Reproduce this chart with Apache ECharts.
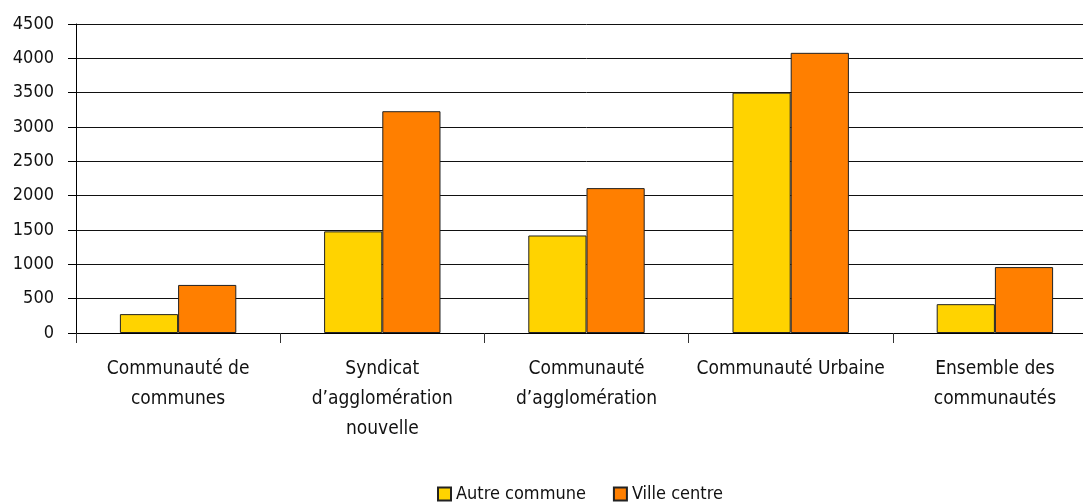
<!DOCTYPE html>
<html><head><meta charset="utf-8">
<script src="https://cdn.jsdelivr.net/npm/echarts@6/dist/echarts.min.js"></script>
<style>html,body{margin:0;padding:0;background:#fff;overflow:hidden;width:1083px;height:502px}#c{width:1097px;height:502px}</style>
</head><body><div id="c"></div>
<script>
const categories = ["Communauté de\ncommunes", "Syndicat\nd’agglomération\nnouvelle", "Communauté\nd’agglomération", "Communauté Urbaine", "Ensemble des\ncommunautés"];
const autreCommune = [275, 1480, 1420, 3500, 420];
const villeCentre = [700, 3230, 2110, 4080, 960];
const seriesNames = ["Autre commune", "Ville centre"];
const FONT = "'Liberation Sans Narrow', 'DejaVu Sans Condensed', 'Liberation Sans', Arial, sans-serif";
const chart = echarts.init(document.getElementById('c'));
chart.setOption({
  animation: false,
  grid: { left: 76, right: 0, top: 24, bottom: 169, containLabel: false },
  legend: {
    top: 485, left: 437, padding: 0, itemWidth: 13, itemHeight: 13, itemGap: 27,
    icon: 'rect',
    textStyle: { fontFamily: FONT, fontSize: 18, color: '#111' },
    data: seriesNames
  },
  xAxis: {
    type: 'category', data: categories,
    axisLine: { lineStyle: { color: '#000', width: 1 } },
    axisTick: { show: true, length: 10, lineStyle: { color: '#333' } },
    axisLabel: { fontFamily: FONT, fontSize: 19, color: '#111', lineHeight: 30, margin: 21, interval: 0 }
  },
  yAxis: {
    type: 'value', min: 0, max: 4500, interval: 500,
    axisLine: { show: true, lineStyle: { color: '#000' } },
    axisTick: { show: true, length: 8, lineStyle: { color: '#000' } },
    axisLabel: { fontFamily: FONT, fontSize: 18, color: '#111', margin: 22, formatter: v => String(v) },
    splitLine: { lineStyle: { color: '#111', width: 1 } }
  },
  series: [
    { name: seriesNames[0], type: 'bar', data: autreCommune, barGap: '0%', barCategoryGap: '43%',
      itemStyle: { color: '#FFD300', borderColor: '#222', borderWidth: 1 } },
    { name: seriesNames[1], type: 'bar', data: villeCentre,
      itemStyle: { color: '#FF7F00', borderColor: '#222', borderWidth: 1 } }
  ]
});
</script></body></html>
